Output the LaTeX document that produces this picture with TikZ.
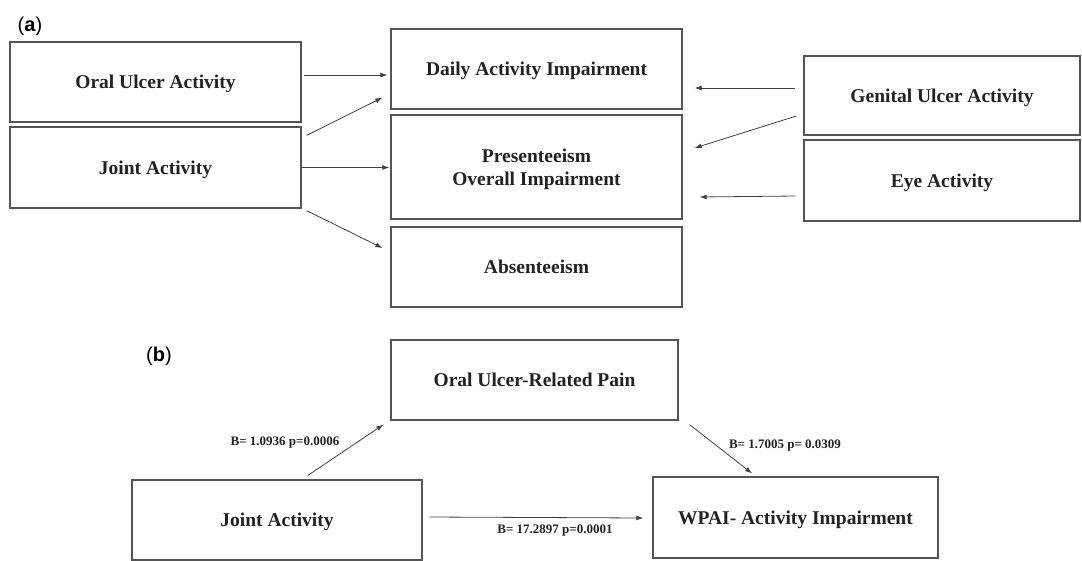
\documentclass[tikz,border=0pt]{standalone}
\usepackage{fontspec}
\setmainfont{Liberation Serif}
\newfontfamily\panelfont{Liberation Sans}
\usetikzlibrary{calc,arrows.meta}
\definecolor{colorline}{HTML}{555555}
\definecolor{colortext}{HTML}{222222}
\tikzset{
    factor box/.style={draw=colorline, line width=1.3pt, text=colortext,
        align=center, inner sep=0pt, minimum width=#1, text depth=0pt,
        font=\fontsize{19.5}{23}\selectfont\bfseries},
    factor box/.default=291pt,
    effect arrow/.style={draw=black!75, line width=0.8pt,
        -{Latex[length=7pt,width=5pt]}},
    coef label/.style={text=colortext, inner sep=0pt,
        font=\fontsize{13}{15}\selectfont\bfseries},
    panel label/.style={inner sep=0pt, font=\fontsize{20}{24}\selectfont\panelfont}
}

\begin{document}
\begin{tikzpicture}[x=1pt, y=-1pt]
        \useasboundingbox (0,0) rectangle (1082,560);

        % (a) activity and impairment
        \node [panel label] (labela) at (30,26) {(\textbf{a})};

        \node [factor box, minimum height=80pt] (oral) at (155.5,82) {Oral Ulcer Activity};
        \node [factor box, minimum height=81pt] (joint) at (155.5,167.5) {Joint Activity};

        \node [factor box, minimum height=80pt] (daily) at (536.5,69) {Daily Activity Impairment};
        \node [factor box, minimum height=104pt] (present) at (536.5,167) {Presenteeism\\Overall Impairment};
        \node [factor box, minimum height=80pt] (absent) at (536.5,267) {Absenteeism};

        \node [factor box=276pt, minimum height=79pt] (genital) at (942,95.5) {Genital Ulcer Activity};
        \node [factor box=276pt, minimum height=81pt] (eye) at (942,180.5) {Eye Activity};

        \draw [effect arrow] ($(oral.east)+(2,-7)$) -- ($(daily.west)+(-3,6)$);
        \draw [effect arrow] ($(joint.north east)+(5,9)$) -- ($(daily.south west)+(-8,-12)$);
        \draw [effect arrow] (joint.east) -- ($(present.west)+(-1,0.5)$);
        \draw [effect arrow] ($(joint.south east)+(5,2)$) -- ($(absent.west)+(-8,-19)$);

        \draw [effect arrow] ($(genital.west)+(-8,-7.5)$) -- ($(daily.east)+(12,19)$);
        \draw [effect arrow] ($(genital.west)+(-7,20.5)$) -- ($(present.east)+(12,-19)$);
        \draw [effect arrow] ($(eye.west)+(-8,15.5)$) -- ($(present.east)+(17,30)$);

        % (b) mediation model
        \node [panel label] (labelb) at (159,356) {(\textbf{b})};

        \node [factor box=287pt, minimum height=80pt] (pain) at (534.5,380) {Oral Ulcer-Related Pain};
        \node [factor box=290pt, minimum height=80pt] (jointb) at (277,520) {Joint Activity};
        \node [factor box=285pt, minimum height=81pt] (wpai) at (795.5,517.5) {WPAI- Activity Impairment};

        \draw [effect arrow] ($(jointb.north)+(31,-4)$) -- ($(pain.south west)+(-7,4)$);
        \draw [effect arrow] ($(pain.south east)+(11,4)$) -- ($(wpai.north)+(-43.5,-3)$);
        \draw [effect arrow] ($(jointb.east)+(7,-3)$) -- ($(wpai.west)+(-9,0.5)$);

        \node [coef label] (coefa) at (285,443) {B= 1.0936 p=0.0006};
        \node [coef label] (coefb) at (785,446) {B= 1.7005 p= 0.0309};
        \node [coef label] (coefc) at (555,531) {B= 17.2897 p=0.0001};
    \end{tikzpicture}
\end{document}
